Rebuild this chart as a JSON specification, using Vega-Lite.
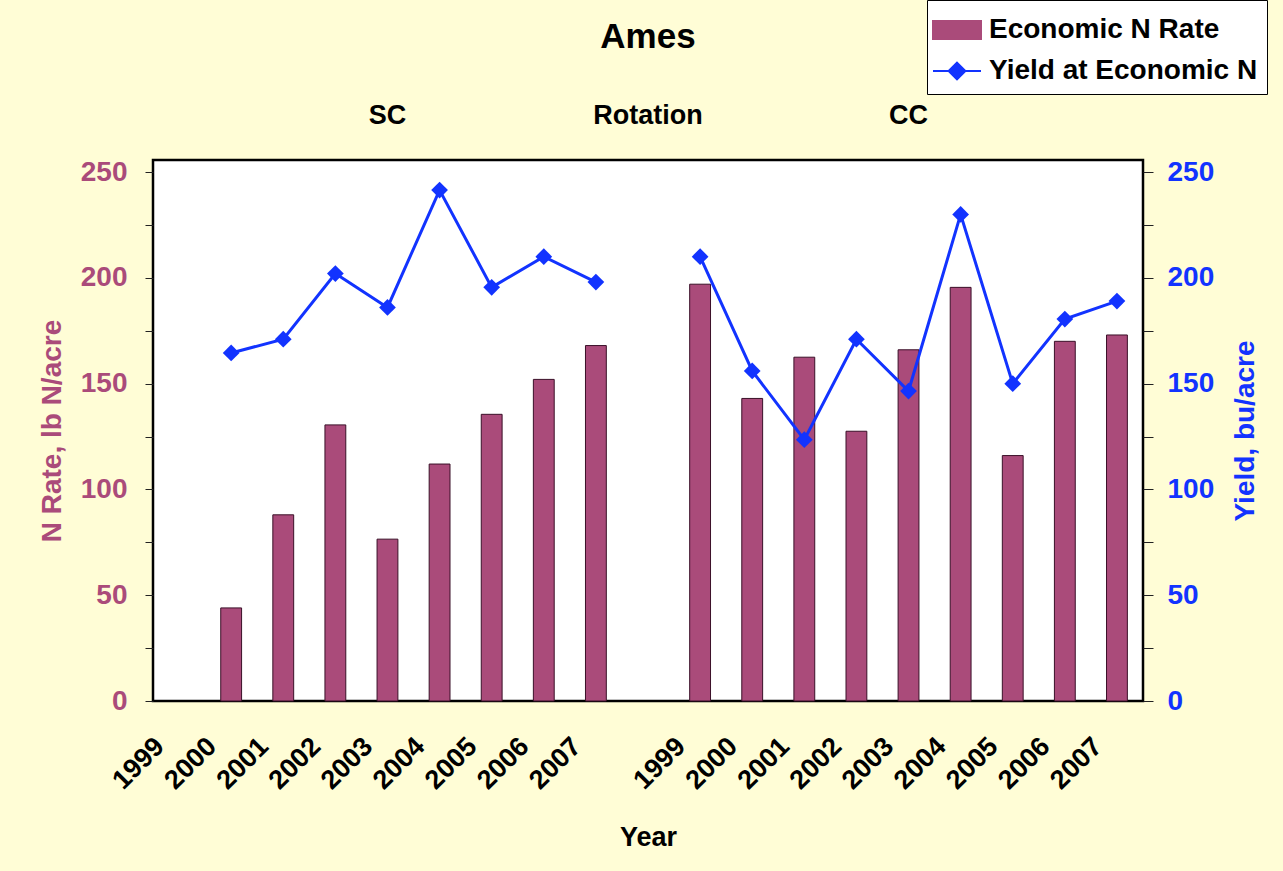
{
  "$schema": "https://vega.github.io/schema/vega-lite/v6.json",
  "autosize": {"type": "none"},
  "width": 990,
  "height": 541,
  "padding": {"left": 153, "top": 160, "right": 140, "bottom": 170},
  "background": "#FFFDD6",
  "config": {
    "font": "Liberation Sans",
    "view": {"fill": "white", "stroke": "black", "strokeWidth": 2.5},
    "axis": {"grid": false, "labelFont": "Liberation Sans", "titleFont": "Liberation Sans"},
    "legend": {
      "title": null,
      "orient": "none",
      "legendX": 774,
      "legendY": -160,
      "direction": "vertical",
      "fillColor": "white",
      "strokeColor": "black",
      "padding": 9,
      "rowPadding": 6,
      "symbolSize": 1600,
      "labelFontSize": 28,
      "labelFontWeight": "bold",
      "labelColor": "black",
      "labelOffset": 11,
      "labelLimit": 400
    }
  },
  "datasets": {
    "main": [
      {"cat": "SC 1999", "rot": "SC", "n": null, "yield": null},
      {"cat": "SC 2000", "rot": "SC", "n": 44, "yield": 164.5},
      {"cat": "SC 2001", "rot": "SC", "n": 88, "yield": 171},
      {"cat": "SC 2002", "rot": "SC", "n": 130.5, "yield": 202},
      {"cat": "SC 2003", "rot": "SC", "n": 76.5, "yield": 186},
      {"cat": "SC 2004", "rot": "SC", "n": 112, "yield": 241.5},
      {"cat": "SC 2005", "rot": "SC", "n": 135.5, "yield": 195.5},
      {"cat": "SC 2006", "rot": "SC", "n": 152, "yield": 210},
      {"cat": "SC 2007", "rot": "SC", "n": 168, "yield": 198},
      {"cat": "--", "rot": "gap", "n": null, "yield": null},
      {"cat": "CC 1999", "rot": "CC", "n": 197, "yield": 210},
      {"cat": "CC 2000", "rot": "CC", "n": 143, "yield": 156},
      {"cat": "CC 2001", "rot": "CC", "n": 162.5, "yield": 123.5},
      {"cat": "CC 2002", "rot": "CC", "n": 127.5, "yield": 171},
      {"cat": "CC 2003", "rot": "CC", "n": 166, "yield": 146.5},
      {"cat": "CC 2004", "rot": "CC", "n": 195.5, "yield": 230},
      {"cat": "CC 2005", "rot": "CC", "n": 116, "yield": 150},
      {"cat": "CC 2006", "rot": "CC", "n": 170, "yield": 180.5},
      {"cat": "CC 2007", "rot": "CC", "n": 173, "yield": 189}
    ]
  },
  "encoding": {
    "x": {
      "field": "cat",
      "type": "nominal",
      "scale": {
        "type": "band",
        "domain": ["SC 1999","SC 2000","SC 2001","SC 2002","SC 2003","SC 2004","SC 2005","SC 2006","SC 2007","--","CC 1999","CC 2000","CC 2001","CC 2002","CC 2003","CC 2004","CC 2005","CC 2006","CC 2007"],
        "paddingInner": 0.6,
        "paddingOuter": 0.3
      },
      "axis": {
        "title": "Year",
        "titleFontSize": 27,
        "titleFontWeight": "bold",
        "titleColor": "black",
        "titlePadding": 31,
        "labelExpr": "datum.label == '--' ? '' : slice(datum.label, 3)",
        "labelAngle": -45,
        "labelAlign": "right",
        "labelBaseline": "middle",
        "labelFontSize": 27,
        "labelFontWeight": "bold",
        "labelColor": "black",
        "labelOffset": -19,
        "labelPadding": 41,
        "ticks": false,
        "domain": false
      }
    }
  },
  "layer": [
    {
      "data": {"name": "main"},
      "mark": {"type": "bar", "stroke": "#3a1028", "strokeWidth": 1},
      "encoding": {
        "y": {
          "field": "n",
          "type": "quantitative",
          "scale": {"domain": [0, 255.7], "nice": false, "zero": true},
          "axis": {
            "orient": "left",
            "title": "N Rate, lb N/acre",
            "titleColor": "#AA4B7A",
            "titleFontSize": 28,
            "titleFontWeight": "bold",
            "titlePadding": 14,
            "values": [0, 25, 50, 75, 100, 125, 150, 175, 200, 225, 250],
            "labelExpr": "datum.value % 50 == 0 ? datum.label : ''",
            "labelColor": "#AA4B7A",
            "labelFontSize": 28,
            "labelFontWeight": "bold",
            "labelPadding": 18,
            "tickSize": 8,
            "tickColor": "#222222",
            "domain": false
          }
        },
        "color": {
          "datum": "Economic N Rate",
          "type": "nominal",
          "scale": {"domain": ["Economic N Rate", "Yield at Economic N"], "range": ["#AA4B7A", "#1233FF"]},
          "legend": {
            "encode": {
              "symbols": {
                "update": {
                  "shape": {"signal": "datum.value === 'Economic N Rate' ? 'M-1.2,-0.45H1.2V0.45H-1.2Z' : 'M-1.2,0H1.2M0,-0.42L0.42,0L0,0.42L-0.42,0Z'"},
                  "fill": {"signal": "datum.value === 'Economic N Rate' ? '#AA4B7A' : '#1233FF'"},
                  "stroke": {"signal": "datum.value === 'Economic N Rate' ? '#3a1028' : '#1233FF'"},
                  "strokeWidth": {"value": 2},
                  "opacity": {"value": 1},
                  "fillOpacity": {"value": 1}
                }
              }
            }
          }
        }
      }
    },
    {
      "data": {"name": "main"},
      "encoding": {
        "y": {
          "field": "yield",
          "type": "quantitative",
          "scale": {"domain": [0, 255.7], "nice": false, "zero": true},
          "axis": {
            "orient": "right",
            "title": "Yield, bu/acre",
            "titleAngle": 270,
            "titleColor": "#1233FF",
            "titleFontSize": 28,
            "titleFontWeight": "bold",
            "titlePadding": 46,
            "values": [0, 25, 50, 75, 100, 125, 150, 175, 200, 225, 250],
            "labelExpr": "datum.value % 50 == 0 ? datum.label : ''",
            "labelColor": "#1233FF",
            "labelFontSize": 28,
            "labelFontWeight": "bold",
            "labelPadding": 14,
            "tickSize": 10,
            "tickColor": "#222222",
            "domain": false
          }
        },
        "color": {
          "datum": "Yield at Economic N",
          "type": "nominal",
          "legend": {
            "encode": {
              "symbols": {
                "update": {
                  "shape": {"signal": "datum.value === 'Economic N Rate' ? 'M-1.2,-0.45H1.2V0.45H-1.2Z' : 'M-1.2,0H1.2M0,-0.42L0.42,0L0,0.42L-0.42,0Z'"},
                  "fill": {"signal": "datum.value === 'Economic N Rate' ? '#AA4B7A' : '#1233FF'"},
                  "stroke": {"signal": "datum.value === 'Economic N Rate' ? '#3a1028' : '#1233FF'"},
                  "strokeWidth": {"value": 2},
                  "opacity": {"value": 1},
                  "fillOpacity": {"value": 1}
                }
              }
            }
          }
        }
      },
      "layer": [
        {
          "mark": {"type": "line", "strokeWidth": 3},
          "encoding": {"detail": {"field": "rot"}}
        },
        {
          "mark": {"type": "point", "shape": "diamond", "filled": true, "size": 280, "opacity": 1}
        }
      ]
    },
    {
      "data": {"values": [{"cat": "--", "label": "Ames"}]},
      "mark": {"type": "text", "fontSize": 35, "fontWeight": "bold", "color": "black", "baseline": "middle"},
      "encoding": {
        "text": {"field": "label"},
        "y": {"datum": 314, "type": "quantitative", "scale": {"domain": [0, 255.7], "nice": false}, "axis": null}
      }
    },
    {
      "data": {"values": [{"cat": "SC 2003", "label": "SC"}, {"cat": "--", "label": "Rotation"}, {"cat": "CC 2003", "label": "CC"}]},
      "mark": {"type": "text", "fontSize": 27, "fontWeight": "bold", "color": "black", "baseline": "middle"},
      "encoding": {
        "text": {"field": "label"},
        "y": {"datum": 276.7, "type": "quantitative", "scale": {"domain": [0, 255.7], "nice": false}, "axis": null}
      }
    }
  ],
  "resolve": {"scale": {"y": "independent"}}
}
